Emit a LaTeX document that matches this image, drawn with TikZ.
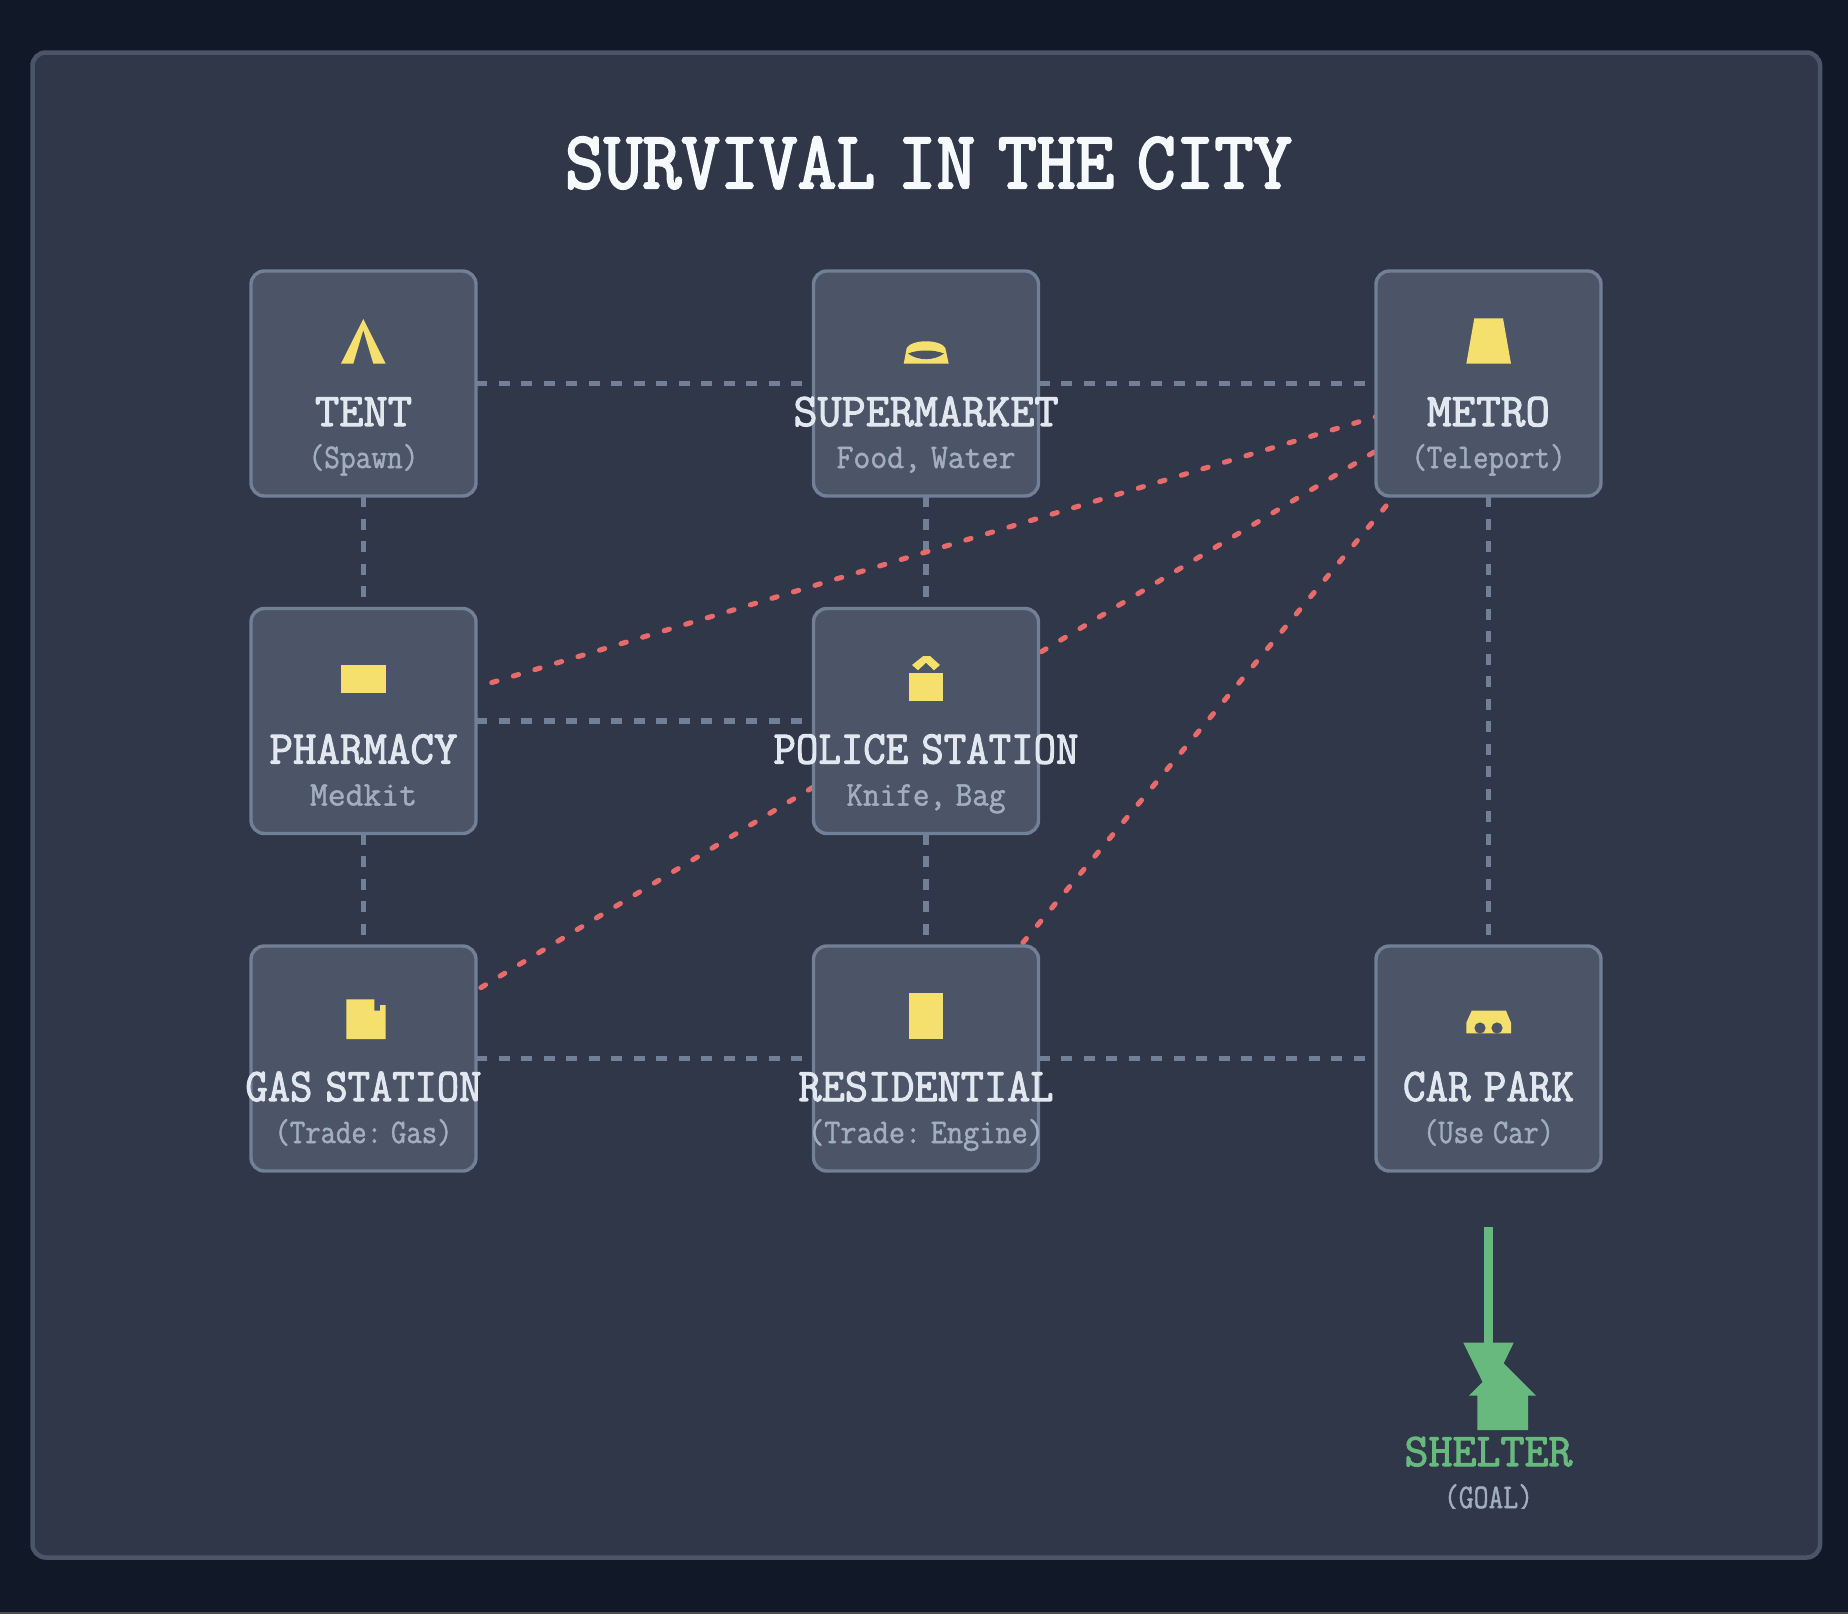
\documentclass[tikz,border=0pt]{standalone}
\usepackage{graphicx}
\usepackage{fontspec}
\newfontfamily\titlett{Latin Modern Mono}[FakeBold=2.8]
\newfontfamily\labeltt{Latin Modern Mono}[FakeBold=2.2]
\newfontfamily\subtt{Latin Modern Mono}[FakeBold=1.4]
\newdimen\pxu \pxu=0.75pt
\newcommand\fitw[3]{\resizebox{#1\pxu}{#2\height}{#3}}
\newcommand\wgap{\hspace{0.3em}}
\definecolor{bgcol}{HTML}{111928}
\definecolor{panelfill}{HTML}{2F3748}
\definecolor{panelline}{HTML}{4A5568}
\definecolor{boxfill}{HTML}{4C5568}
\definecolor{boxline}{HTML}{718096}
\definecolor{dashgrey}{HTML}{718096}
\definecolor{dashred}{HTML}{E86B6B}
\definecolor{iconyellow}{HTML}{F5E06E}
\definecolor{goalgreen}{HTML}{68B97E}
\definecolor{titlecol}{HTML}{F7FAFC}
\definecolor{labelcol}{HTML}{E2E8F0}
\definecolor{subcol}{HTML}{A0AEC0}
\pgfdeclarelayer{links}
\pgfsetlayers{links,main}
\tikzset{
  x=0.75pt,y=-0.75pt,
  roombox/.style={draw=boxline,fill=boxfill,line width=2.55pt,rounded corners=10pt,minimum width=168.75pt,minimum height=168.75pt,inner sep=0pt,outer sep=0pt},
  greylink/.style={draw=dashgrey,line width=4.1pt,dash pattern=on 8.44pt off 8.44pt},
  redlink/.style={draw=dashred,line width=3.8pt,line cap=round,dash pattern=on 4.1pt off 12.775pt},
  icon/.style={fill=iconyellow,draw=none},
  titletext/.style={anchor=base,inner sep=0pt,text=titlecol,font=\fontsize{52}{60}\selectfont\titlett},
  roomlabel/.style={anchor=base,inner sep=0pt,text=labelcol,font=\fontsize{34.5}{40}\selectfont\labeltt},
  roomsub/.style={anchor=base,inner sep=0pt,text=subcol,font=\fontsize{22.5}{28}\selectfont\subtt},
  goallabel/.style={anchor=base,inner sep=0pt,text=goalgreen,font=\fontsize{34.5}{40}\selectfont\labeltt},
}
\begin{document}
\begin{tikzpicture}
\useasboundingbox (0,0) rectangle (1848,1614);

% free ends of the teleport routes
\coordinate (rA1) at (477,687);
\coordinate (rA2) at (1390,412.5);
\coordinate (rB1) at (1037.5,654);
\coordinate (rB2) at (1390,442.5);
\coordinate (rC1) at (477,990);
\coordinate (rC2) at (825,780);
\coordinate (rD1) at (1021,945);
\coordinate (rD2) at (1393.5,497);

\node[roombox] (tent) at (363.5,383.5) {};
\node[roombox] (super) at (926,383.5) {};
\node[roombox] (metro) at (1488.5,383.5) {};
\node[roombox] (pharm) at (363.5,721) {};
\node[roombox] (police) at (926,721) {};
\node[roombox] (gas) at (363.5,1058.5) {};
\node[roombox] (resid) at (926,1058.5) {};
\node[roombox] (carpark) at (1488.5,1058.5) {};

\begin{pgfonlayer}{links}
\fill[bgcol] (0,0) rectangle (1848,1614);
\fill[black!70!white] (0,1611.5) rectangle (1848,1614);
\draw[fill=panelfill,draw=panelline,line width=3.375pt,rounded corners=10pt] (32.5,52.5) rectangle (1820,1557.5);
\draw[greylink] (tent.east) -- (super.west);
\draw[greylink] (super.east) -- (metro.west);
\draw[greylink] (pharm.east) -- (police.west);
\draw[greylink] (gas.east) -- (resid.west);
\draw[greylink] (resid.east) -- (carpark.west);
\draw[greylink] (tent.south) -- (pharm.north);
\draw[greylink] (pharm.south) -- (gas.north);
\draw[greylink] (super.south) -- (police.north);
\draw[greylink] (police.south) -- (resid.north);
\draw[greylink] (metro.south) -- (carpark.north);
\draw[redlink,dash phase=5.3pt] (rA1) -- (rA2);
\draw[redlink,dash phase=13.5pt] (rB1) -- (rB2);
\draw[redlink,dash phase=13.5pt] (rC1) -- (rC2);
\draw[redlink,dash phase=14.6pt] (rD1) -- (rD2);
\end{pgfonlayer}

% icons
\fill[icon] (363.3,319) -- (385.7,363.7) -- (373.3,363.7) -- (363.3,330) -- (353.3,363.7) -- (341,363.7) -- cycle;
\fill[icon] (903.7,363.7) -- (906.7,348) .. controls (912,339) and (940,339) .. (945.3,348) -- (948.7,363.7) -- cycle;
\fill[boxfill] (908,353.5) .. controls (918,349.5) and (934,349.5) .. (944,353.5) .. controls (934,361) and (918,361) .. (908,353.5) -- cycle;
\fill[icon] (1474.3,318.3) -- (1503,318.3) -- (1511,363.7) -- (1466.3,363.7) -- cycle;
\fill[icon] (340.7,664.7) rectangle (385.7,692.7);
\fill[icon] (909,673) rectangle (943,701);
\fill[icon] (912,665) -- (923.3,656) -- (930,656) -- (940,665) -- (934,670.3) -- (926,662.7) -- (918,670.3) -- cycle;
\fill[icon] (346.3,999.3) -- (374.3,999.3) -- (374.3,1010.7) -- (380,1010.7) -- (380,1005) -- (385.7,1005) -- (385.7,1039) -- (346.3,1039) -- cycle;
\fill[icon] (909,993.3) rectangle (943,1038.7);
\fill[icon] (1466.3,1033.3) -- (1466.3,1022.7) -- (1471.7,1010.7) -- (1506,1010.7) -- (1511,1022.7) -- (1511,1033.3) -- cycle;
\fill[boxfill] (1480,1028) circle[radius=5.6];
\fill[boxfill] (1497,1028) circle[radius=5.6];

% goal route and shelter
\coordinate (goalstart) at (1488.6,1227.3);
\coordinate (goalneck) at (1488.6,1342.7);
\draw[goalgreen,line width=6.5pt] (goalstart) -- (goalneck);
\fill[goalgreen] (1463.3,1342.7) -- (1513.7,1342.7) -- (1488.6,1394.3) -- cycle;
\fill[goalgreen] (1502.5,1362) -- (1536,1395.7) -- (1528,1395.7) -- (1528,1430) -- (1477.3,1430) -- (1477.3,1395.7) -- (1469,1395.7) -- cycle;

% texts
\node[titletext] (title) at (928.5,188) {\fitw{727}{1.18}{SURVIVAL\wgap IN\wgap THE\wgap CITY}};
\node[roomlabel] (tentlabel) at (363.5,426) {\fitw{97}{1.02}{TENT}};
\node[roomsub] (tentsub) at (363.5,468) {\fitw{110}{1.15}{(Spawn)}};
\node[roomlabel] (superlabel) at (926,426) {\fitw{265}{1.02}{SUPERMARKET}};
\node[roomsub] (supersub) at (926,468) {\fitw{179}{1.15}{Food,\wgap Water}};
\node[roomlabel] (metrolabel) at (1488.5,426) {\fitw{123}{1.02}{METRO}};
\node[roomsub] (metrosub) at (1488.5,468) {\fitw{154}{1.15}{(Teleport)}};
\node[roomlabel] (pharmlabel) at (363.5,763.5) {\fitw{188}{1.02}{PHARMACY}};
\node[roomsub] (pharmsub) at (363.5,805.5) {\fitw{107}{1.15}{Medkit}};
\node[roomlabel] (policelabel) at (926,763.5) {\fitw{305}{1.02}{POLICE\wgap STATION}};
\node[roomsub] (policesub) at (926,805.5) {\fitw{159}{1.15}{Knife,\wgap Bag}};
\node[roomlabel] (gaslabel) at (363.5,1101) {\fitw{236}{1.02}{GAS\wgap STATION}};
\node[roomsub] (gassub) at (363.5,1143) {\fitw{178}{1.15}{(Trade:\wgap Gas)}};
\node[roomlabel] (residlabel) at (926,1101) {\fitw{255}{1.02}{RESIDENTIAL}};
\node[roomsub] (residsub) at (926,1143) {\fitw{236}{1.15}{(Trade:\wgap Engine)}};
\node[roomlabel] (carparklabel) at (1488.5,1101) {\fitw{171}{1.02}{CAR\wgap PARK}};
\node[roomsub] (carparksub) at (1488.5,1143) {\fitw{131}{1.15}{(Use\wgap Car)}};
\node[goallabel] (shelterlabel) at (1488.5,1466) {\fitw{168}{1.02}{SHELTER}};
\begin{scope}
\clip (1300,1470) rectangle (1700,1508.5);
\node[roomsub] (goalsub) at (1488.5,1508) {\fitw{89}{1.15}{(GOAL)}};
\end{scope}
\end{tikzpicture}
\end{document}
